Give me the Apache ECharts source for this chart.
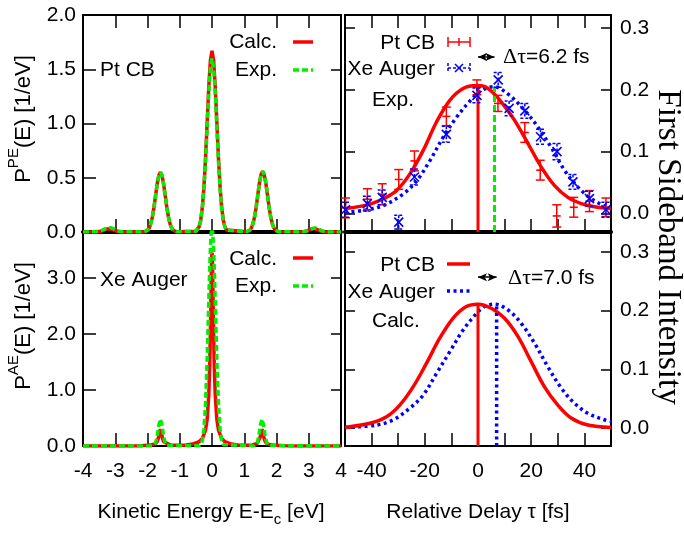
<!DOCTYPE html>
<html><head><meta charset="utf-8">
<script src="https://cdn.jsdelivr.net/npm/echarts@6/dist/echarts.min.js"></script>
<style>html,body{margin:0;padding:0;background:#fff}#c{width:684px;height:534px}</style>
</head><body><div id="c"></div>
<script>
// ---------- DATA ----------
// Photoemission (Pt CB) spectra [E-Ec (eV), P (1/eV)]
const peCalc = [[-4,0],[-3.6,0.001],[-3.45,0.006],[-3.35,0.018],[-3.25,0.028],[-3.2,0.03],[-3.15,0.028],[-3.05,0.018],[-2.95,0.006],[-2.8,0.001],[-2.1,0.001],[-2.05,0.003],[-2.0,0.016],[-1.95,0.036],[-1.9,0.074],[-1.85,0.137],[-1.8,0.226],[-1.75,0.334],[-1.7,0.441],[-1.65,0.52],[-1.6,0.55],[-1.55,0.52],[-1.5,0.441],[-1.45,0.334],[-1.4,0.226],[-1.35,0.137],[-1.3,0.074],[-1.25,0.036],[-1.2,0.016],[-1.15,0.006],[-1.1,0.002],[-0.5,0.007],[-0.45,0.018],[-0.4,0.048],[-0.35,0.11],[-0.3,0.225],[-0.25,0.416],[-0.2,0.686],[-0.15,1.014],[-0.1,1.338],[-0.05,1.58],[0,1.67],[0.05,1.58],[0.1,1.338],[0.15,1.014],[0.2,0.686],[0.25,0.416],[0.3,0.225],[0.35,0.11],[0.4,0.048],[0.45,0.018],[0.5,0.007],[1.07,0.002],[1.12,0.006],[1.17,0.016],[1.22,0.037],[1.27,0.076],[1.32,0.139],[1.37,0.23],[1.42,0.34],[1.47,0.449],[1.52,0.53],[1.57,0.56],[1.62,0.53],[1.67,0.449],[1.72,0.34],[1.77,0.23],[1.82,0.139],[1.87,0.076],[1.92,0.037],[1.97,0.016],[2.02,0.006],[2.07,0.002],[2.8,0.001],[2.95,0.01],[3.05,0.025],[3.15,0.032],[3.25,0.025],[3.35,0.01],[3.5,0.001],[4,0]];
const peExp = [[-4,0],[-3.6,0.002],[-3.45,0.01],[-3.35,0.025],[-3.25,0.036],[-3.2,0.04],[-3.15,0.04],[-3.05,0.03],[-2.95,0.012],[-2.8,0.002],[-2.1,0.001],[-2.05,0.003],[-2.0,0.016],[-1.95,0.036],[-1.9,0.074],[-1.85,0.137],[-1.8,0.226],[-1.75,0.334],[-1.7,0.441],[-1.65,0.52],[-1.6,0.55],[-1.55,0.52],[-1.5,0.441],[-1.45,0.334],[-1.4,0.226],[-1.35,0.137],[-1.3,0.074],[-1.25,0.036],[-1.2,0.016],[-1.15,0.006],[-1.1,0.002],[-0.5,0.006],[-0.45,0.018],[-0.4,0.046],[-0.35,0.106],[-0.3,0.216],[-0.25,0.398],[-0.2,0.658],[-0.15,0.971],[-0.1,1.282],[-0.05,1.514],[0,1.6],[0.05,1.514],[0.1,1.282],[0.15,0.971],[0.2,0.658],[0.25,0.398],[0.3,0.216],[0.35,0.106],[0.4,0.046],[0.45,0.018],[0.5,0.006],[1.07,0.002],[1.12,0.006],[1.17,0.016],[1.22,0.037],[1.27,0.076],[1.32,0.139],[1.37,0.23],[1.42,0.34],[1.47,0.449],[1.52,0.53],[1.57,0.56],[1.62,0.53],[1.67,0.449],[1.72,0.34],[1.77,0.23],[1.82,0.139],[1.87,0.076],[1.92,0.037],[1.97,0.016],[2.02,0.006],[2.07,0.002],[2.8,0.001],[3.0,0.012],[3.1,0.03],[3.2,0.038],[3.3,0.03],[3.4,0.012],[3.55,0.001],[4,0]];
// Auger (Xe) spectra
const aeCalc = [[-4,0],[-2.5,0.002],[-2.2,0.006],[-1.9,0.016],[-1.75,0.042],[-1.7,0.078],[-1.66,0.15],[-1.63,0.24],[-1.6,0.3],[-1.57,0.24],[-1.54,0.15],[-1.5,0.078],[-1.45,0.044],[-1.3,0.02],[-1.0,0.014],[-0.8,0.02],[-0.6,0.034],[-0.4,0.076],[-0.3,0.133],[-0.2,0.285],[-0.15,0.476],[-0.1,0.913],[-0.07,1.461],[-0.05,2.036],[-0.04,2.389],[-0.03,2.76],[-0.02,3.105],[-0.01,3.357],[0,3.45],[0.01,3.357],[0.02,3.105],[0.03,2.76],[0.04,2.389],[0.05,2.036],[0.07,1.461],[0.1,0.913],[0.15,0.476],[0.2,0.285],[0.3,0.133],[0.4,0.076],[0.6,0.034],[0.8,0.02],[1.0,0.014],[1.25,0.02],[1.4,0.044],[1.45,0.078],[1.49,0.15],[1.52,0.24],[1.55,0.3],[1.58,0.24],[1.61,0.15],[1.65,0.078],[1.7,0.042],[1.85,0.016],[2.2,0.006],[2.5,0.002],[4,0]];
const aeExp = [[-4,0],[-1.85,0.001],[-1.8,0.008],[-1.75,0.048],[-1.7,0.173],[-1.65,0.372],[-1.6,0.48],[-1.55,0.372],[-1.5,0.173],[-1.45,0.048],[-1.4,0.008],[-1.35,0.001],[-0.4,0.003],[-0.35,0.024],[-0.3,0.094],[-0.25,0.30],[-0.2,0.75],[-0.15,1.54],[-0.1,2.58],[-0.075,3.09],[-0.05,3.52],[-0.025,3.80],[0,3.9],[0.025,3.80],[0.05,3.52],[0.075,3.09],[0.1,2.58],[0.15,1.54],[0.2,0.75],[0.25,0.30],[0.3,0.094],[0.35,0.024],[0.4,0.003],[1.3,0.001],[1.35,0.008],[1.4,0.048],[1.45,0.173],[1.5,0.372],[1.55,0.48],[1.6,0.372],[1.65,0.173],[1.7,0.048],[1.75,0.008],[1.8,0.001],[4,0]];

// Sideband intensity vs delay (fs): experiment points [tau, value, error]
const ptExpPts = [[-49.8,0.009,0.016],[-41.6,0.023,0.017],[-36,0.031,0.017],[-29.8,0.055,0.016],[-23.9,0.085,0.016],[-11.9,0.157,0.015],[-0.4,0.204,0.012],[7.5,0.178,0.013],[17.6,0.131,0.016],[23.4,0.070,0.016],[29.6,-0.004,0.018],[36,0.010,0.016],[41.9,0.020,0.017],[48.1,0.010,0.015]];
const xeExpPts = [[-49.8,0.006,0.012],[-41.6,0.016,0.012],[-36,0.026,0.012],[-29.8,-0.014,0.011],[-23.9,0.059,0.013],[-11.9,0.128,0.013],[-0.4,0.191,0.012],[7.6,0.216,0.012],[11.7,0.170,0.012],[17.6,0.166,0.012],[23.5,0.124,0.012],[29.7,0.100,0.013],[35.7,0.051,0.012],[41.9,0.024,0.012],[48.1,0.006,0.012]];
// Fits to experiment
const ptExpFit = [[-50,0.008],[-45,0.011],[-40,0.016],[-35,0.025],[-30.6,0.037],[-25.6,0.064],[-20.6,0.102],[-15.6,0.148],[-10.6,0.183],[-5.6,0.202],[-0.6,0.207],[2.6,0.205],[5.5,0.196],[8.8,0.180],[13.7,0.151],[18.8,0.113],[23.8,0.075],[28.8,0.045],[33.8,0.026],[38.8,0.016],[43.8,0.011],[50,0.008]];
const xeExpFit = [[-50,0.002],[-43,0.005],[-35.5,0.013],[-28,0.032],[-23,0.053],[-18,0.086],[-13,0.124],[-8,0.156],[-3,0.182],[1,0.198],[6,0.205],[11.3,0.193],[17.5,0.167],[22.5,0.140],[27.5,0.107],[32.5,0.070],[37.5,0.043],[42.5,0.024],[48.7,0.010],[50,0.009]];
// Calculation
const ptCalcCurve = [[-50,0.001],[-40.6,0.008],[-34.4,0.019],[-29.4,0.039],[-24.4,0.070],[-19.4,0.110],[-14.4,0.153],[-9.4,0.187],[-4.4,0.207],[0,0.211],[5,0.204],[10,0.187],[15,0.156],[20,0.113],[25,0.070],[30,0.039],[35,0.017],[41.3,0.005],[50,0.001]];
const xeCalcCurve = [[-50,0.001],[-38,0.005],[-31.8,0.014],[-25.6,0.034],[-20.6,0.056],[-15.6,0.093],[-10.6,0.130],[-5.6,0.167],[-0.6,0.195],[2.5,0.207],[6.2,0.211],[11.3,0.201],[16.3,0.178],[21.3,0.144],[26.3,0.104],[31.3,0.068],[36.3,0.042],[41.3,0.025],[47.5,0.014],[50,0.011]];
// Peak centres (fs) and heights
const expPeakTau = [0, 6.2], expPeakVal = [0.207, 0.205];
const calcPeakTau = [0, 7.0], calcPeakVal = [0.211, 0.211];
const expDelayLabel = 'Δτ=6.2 fs', calcDelayLabel = 'Δτ=7.0 fs';
const arrowLevelExp = 0.253, arrowLevelCalc = 0.257;

// Axis ticks
const eTicks = [-4,-3,-2,-1,0,1,2,3,4];
const tauTickLabels = [-40,-20,0,20,40];
const peTicks = [0,0.5,1,1.5,2];
const aeTicks = [0,1,2,3];
const sbTicks = [0,0.1,0.2,0.3];

// ---------- STYLE ----------
const FONT = "'Liberation Sans', Arial, Helvetica, sans-serif";
const SERIF = "'Liberation Serif', 'Times New Roman', serif";
const FS = 21;
const RED = '#ff0000', GREEN = '#00ee00', BLUE = '#0000ff';
const tick = (len) => ({show:true, inside:true, length:len, lineStyle:{color:'#000', width:1.5}});
const noLine = {show:false, onZero:false};
const lbl = (extra) => Object.assign({show:true, color:'#000', fontSize:FS, fontFamily:FONT}, extra||{});

const chart = echarts.init(document.getElementById('c'), null, {renderer:'canvas'});

function errRender(color, kind) {
  return function (params, api) {
    const x = api.value(0), y = api.value(1), e = api.value(2);
    const c = api.coord([x, y]), t = api.coord([x, y + e]), b = api.coord([x, y - e]);
    const w = 4.5;
    const st = {stroke: color, lineWidth: 1.5, lineDash: kind === 'x' ? [3, 2] : null, fill: null};
    const solid = {stroke: color, lineWidth: 1.6, fill: null};
    const ch = [
      {type:'line', shape:{x1:c[0], y1:t[1], x2:c[0], y2:b[1]}, style:st},
      {type:'line', shape:{x1:c[0]-w, y1:t[1], x2:c[0]+w, y2:t[1]}, style:st},
      {type:'line', shape:{x1:c[0]-w, y1:b[1], x2:c[0]+w, y2:b[1]}, style:st}
    ];
    if (kind === 'plus') {
      ch.push({type:'line', shape:{x1:c[0]-4, y1:c[1], x2:c[0]+4, y2:c[1]}, style:solid});
    } else {
      const m = 4.5;
      ch.push({type:'line', shape:{x1:c[0]-m, y1:c[1]-m, x2:c[0]+m, y2:c[1]+m}, style:solid});
      ch.push({type:'line', shape:{x1:c[0]-m, y1:c[1]+m, x2:c[0]+m, y2:c[1]-m}, style:solid});
    }
    return {type:'group', children: ch};
  };
}

const TR_MIN = -0.03, TR_MAX = 0.321, BR_MIN = -0.0307, BR_MAX = 0.334;

const vline = (taus, vals, ymin, i) => [[taus[i], ymin], [taus[i], vals[i]]];

const option = {
  animation: false,
  backgroundColor: '#fff',
  grid: [
    {left:83, top:15, width:258, height:217, show:true, borderColor:'#000', borderWidth:2},
    {left:83, top:232, width:258, height:214, show:true, borderColor:'#000', borderWidth:2},
    {left:345, top:15, width:266, height:217, show:true, borderColor:'#000', borderWidth:2},
    {left:345, top:232, width:266, height:214, show:true, borderColor:'#000', borderWidth:2}
  ],
  xAxis: [
    {gridIndex:0, type:'value', min:-4, max:4, interval:1, position:'bottom', axisLine:{show:true, onZero:false, lineStyle:{color:'#000', width:4}}, axisTick:tick(13), axisLabel:{show:false}, splitLine:{show:false}},
    {gridIndex:0, type:'value', min:-4, max:4, interval:1, position:'top', axisLine:noLine, axisTick:tick(13), axisLabel:{show:false}, splitLine:{show:false}},
    {gridIndex:1, type:'value', min:-4, max:4, interval:1, position:'bottom', axisLine:noLine, axisTick:tick(13), axisLabel:lbl({margin:15, formatter:(v)=>String(v)}), splitLine:{show:false}},
    {gridIndex:1, type:'value', min:-4, max:4, interval:1, position:'top', axisLine:noLine, axisTick:{show:false}, axisLabel:{show:false}, splitLine:{show:false}},
    {gridIndex:2, type:'value', min:-50, max:50, interval:10, position:'bottom', axisLine:{show:true, onZero:false, lineStyle:{color:'#000', width:4}}, axisTick:tick(13), axisLabel:{show:false}, splitLine:{show:false}},
    {gridIndex:2, type:'value', min:-50, max:50, interval:10, position:'top', axisLine:noLine, axisTick:tick(13), axisLabel:{show:false}, splitLine:{show:false}},
    {gridIndex:3, type:'value', min:-50, max:50, interval:10, position:'bottom', axisLine:noLine, axisTick:tick(13), axisLabel:lbl({margin:15, formatter:(v)=> tauTickLabels.indexOf(v) >= 0 ? String(v) : ''}), splitLine:{show:false}},
    {gridIndex:3, type:'value', min:-50, max:50, interval:10, position:'top', axisLine:noLine, axisTick:{show:false}, axisLabel:{show:false}, splitLine:{show:false}}
  ],
  yAxis: [
    {gridIndex:0, type:'value', min:0, max:2, interval:0.5, position:'left', axisLine:noLine, axisTick:tick(13), axisLabel:lbl({margin:7, formatter:(v)=>v.toFixed(1)}), splitLine:{show:false}},
    {gridIndex:0, type:'value', min:0, max:2, interval:0.5, position:'right', axisLine:noLine, axisTick:tick(10), axisLabel:{show:false}, splitLine:{show:false}},
    {gridIndex:1, type:'value', min:0, max:3.82, interval:1, position:'left', axisLine:noLine, axisTick:Object.assign(tick(13), {customValues:aeTicks}), axisLabel:lbl({margin:7, customValues:aeTicks, formatter:(v)=> aeTicks.indexOf(v)>=0 ? v.toFixed(1) : ''}), splitLine:{show:false}},
    {gridIndex:1, type:'value', min:0, max:3.82, interval:1, position:'right', axisLine:noLine, axisTick:Object.assign(tick(10), {customValues:aeTicks}), axisLabel:{show:false}, splitLine:{show:false}},
    {gridIndex:2, type:'value', min:TR_MIN, max:TR_MAX, position:'right', axisLine:noLine, axisTick:Object.assign(tick(10), {customValues:sbTicks}), axisLabel:lbl({margin:9, customValues:sbTicks, formatter:(v)=>v.toFixed(1)}), splitLine:{show:false}},
    {gridIndex:2, type:'value', min:TR_MIN, max:TR_MAX, position:'left', axisLine:noLine, axisTick:Object.assign(tick(10), {customValues:sbTicks}), axisLabel:{show:false}, splitLine:{show:false}},
    {gridIndex:3, type:'value', min:BR_MIN, max:BR_MAX, position:'right', axisLine:noLine, axisTick:Object.assign(tick(10), {customValues:sbTicks}), axisLabel:lbl({margin:9, customValues:sbTicks, formatter:(v)=>v.toFixed(1)}), splitLine:{show:false}},
    {gridIndex:3, type:'value', min:BR_MIN, max:BR_MAX, position:'left', axisLine:noLine, axisTick:Object.assign(tick(10), {customValues:sbTicks}), axisLabel:{show:false}, splitLine:{show:false}}
  ],
  series: [
    {type:'line', xAxisIndex:0, yAxisIndex:0, data:peCalc, showSymbol:false, lineStyle:{color:RED, width:3.5}, z:2},
    {type:'line', xAxisIndex:0, yAxisIndex:0, data:peExp, showSymbol:false, lineStyle:{color:GREEN, width:3.5, type:[6,3]}, z:3},
    {type:'line', xAxisIndex:2, yAxisIndex:2, data:aeCalc, showSymbol:false, lineStyle:{color:RED, width:3.5}, z:2},
    {type:'line', xAxisIndex:2, yAxisIndex:2, data:aeExp, showSymbol:false, lineStyle:{color:GREEN, width:3.5, type:[6,3]}, z:3},
    // Experiment panel
    {type:'line', xAxisIndex:4, yAxisIndex:4, data:ptExpFit, smooth:0.35, showSymbol:false, lineStyle:{color:RED, width:3.5}, z:3,
      markLine:{silent:true, symbol:['arrow','arrow'], symbolSize:[6,9], label:{show:false}, lineStyle:{color:'#000', width:1.5, type:'solid'},
        data:[[{coord:[expPeakTau[0], arrowLevelExp]}, {coord:[expPeakTau[1], arrowLevelExp]}]]}},
    {type:'line', xAxisIndex:4, yAxisIndex:4, data:xeExpFit, smooth:0.35, showSymbol:false, lineStyle:{color:BLUE, width:3.5, type:[3,3.5]}, z:2},
    {type:'line', xAxisIndex:4, yAxisIndex:4, data:vline(expPeakTau, expPeakVal, TR_MIN, 0), showSymbol:false, lineStyle:{color:RED, width:3}, z:3},
    {type:'line', xAxisIndex:4, yAxisIndex:4, data:vline(expPeakTau, expPeakVal, TR_MIN, 1), showSymbol:false, lineStyle:{color:GREEN, width:3, type:[7,3]}, z:3},
    {type:'custom', xAxisIndex:4, yAxisIndex:4, data:ptExpPts, encode:{x:0, y:1}, renderItem:errRender(RED, 'plus'), z:4},
    {type:'custom', xAxisIndex:4, yAxisIndex:4, data:xeExpPts, encode:{x:0, y:1}, renderItem:errRender(BLUE, 'x'), z:4},
    // Calculation panel
    {type:'line', xAxisIndex:6, yAxisIndex:6, data:ptCalcCurve, smooth:0.35, showSymbol:false, lineStyle:{color:RED, width:3.5}, z:3,
      markLine:{silent:true, symbol:['arrow','arrow'], symbolSize:[6,9], label:{show:false}, lineStyle:{color:'#000', width:1.5, type:'solid'},
        data:[[{coord:[calcPeakTau[0], arrowLevelCalc]}, {coord:[calcPeakTau[1], arrowLevelCalc]}]]}},
    {type:'line', xAxisIndex:6, yAxisIndex:6, data:xeCalcCurve, smooth:0.35, showSymbol:false, lineStyle:{color:BLUE, width:3.5, type:[3,3.5]}, z:2},
    {type:'line', xAxisIndex:6, yAxisIndex:6, data:vline(calcPeakTau, calcPeakVal, BR_MIN, 0), showSymbol:false, lineStyle:{color:RED, width:3}, z:3},
    {type:'line', xAxisIndex:6, yAxisIndex:6, data:vline(calcPeakTau, calcPeakVal, BR_MIN, 1), showSymbol:false, lineStyle:{color:BLUE, width:3.5, type:[3,3.5]}, z:3}
  ],
  graphic: []
};

// ---------- Texts / legends ----------
const g = option.graphic;
const txt = (x, y, text, align, extra) => g.push(Object.assign({type:'text', x:x, y:y, z:100, style:{text:text, fill:'#000', font:FS + 'px ' + FONT, align:align||'left', verticalAlign:'middle'}}, extra||{}));
const seg = (x1, y1, x2, y2, color, w, dash) => g.push({type:'line', z:100, shape:{x1:x1, y1:y1, x2:x2, y2:y2}, style:{stroke:color, lineWidth:w, lineDash:dash||null}});

// top-left
txt(277, 42, 'Calc.', 'right'); seg(293, 42, 313, 42, RED, 3.5);
txt(277, 70, 'Exp.', 'right'); seg(293, 70, 313, 70, GREEN, 3.5, [6,3]);
txt(100, 70, 'Pt CB');
// bottom-left
txt(277, 259, 'Calc.', 'right'); seg(293, 258, 313, 258, RED, 3.5);
txt(277, 286, 'Exp.', 'right'); seg(293, 286, 313, 286, GREEN, 3.5, [6,3]);
txt(100, 280, 'Xe Auger');
// top-right
txt(435, 43, 'Pt CB', 'right');
seg(448, 42, 470, 42, RED, 1.5); seg(448, 37, 448, 47, RED, 1.5); seg(470, 37, 470, 47, RED, 1.5); seg(459, 38, 459, 46, RED, 1.5);
txt(435, 69, 'Xe Auger', 'right');
seg(448, 68, 470, 68, BLUE, 1.5, [3,2]); seg(448, 63, 448, 73, BLUE, 1.5, [3,2]); seg(470, 63, 470, 73, BLUE, 1.5, [3,2]);
seg(455, 64, 463, 72, BLUE, 1.6); seg(455, 72, 463, 64, BLUE, 1.6);
g.push({type:'text', x:503, y:57, z:100, style:{text:'{g|' + expDelayLabel.slice(0,2) + '}{m|' + expDelayLabel.slice(2) + '}', verticalAlign:'middle', align:'left', rich:{g:{fontSize:22, fontFamily:SERIF, fill:'#000'}, m:{fontSize:FS, fontFamily:FONT, fill:'#000'}}}});
txt(372, 100, 'Exp.');
// bottom-right
txt(435, 265, 'Pt CB', 'right'); seg(447, 264, 470, 264, RED, 3.5);
txt(435, 292, 'Xe Auger', 'right'); seg(447, 291, 472, 291, BLUE, 3.5, [3,3.5]);
g.push({type:'text', x:508, y:278, z:100, style:{text:'{g|' + calcDelayLabel.slice(0,2) + '}{m|' + calcDelayLabel.slice(2) + '}', verticalAlign:'middle', align:'left', rich:{g:{fontSize:22, fontFamily:SERIF, fill:'#000'}, m:{fontSize:FS, fontFamily:FONT, fill:'#000'}}}});
txt(372, 321, 'Calc.');

// axis titles
const richY = (sup) => ({text:'{m|P}{s|' + sup + '}{m|(E) [1/eV]}', align:'center', verticalAlign:'middle',
  rich:{m:{fontSize:22, fontFamily:FONT, lineHeight:36, fill:'#000'}, s:{fontSize:15, fontFamily:FONT, lineHeight:12, verticalAlign:'top', fill:'#000'}}});
g.push({type:'text', x:24, y:119, rotation:Math.PI/2, z:100, style:richY('PE')});
g.push({type:'text', x:24, y:326, rotation:Math.PI/2, z:100, style:richY('AE')});
g.push({type:'text', x:211, y:512, z:100, style:{text:'{m|Kinetic Energy E-E}{s|c}{m| [eV]}', align:'center', verticalAlign:'middle',
  rich:{m:{fontSize:FS, fontFamily:FONT, lineHeight:30, fill:'#000'}, s:{fontSize:15, fontFamily:FONT, lineHeight:12, verticalAlign:'bottom', fill:'#000'}}}});
txt(478, 512, 'Relative Delay τ [fs]', 'center');
g.push({type:'text', x:668, y:247, rotation:-Math.PI/2, z:100, style:{text:'First Sideband Intensity', fill:'#000', font:'33px ' + SERIF, align:'center', verticalAlign:'middle'}});

chart.setOption(option);
</script></body></html>
